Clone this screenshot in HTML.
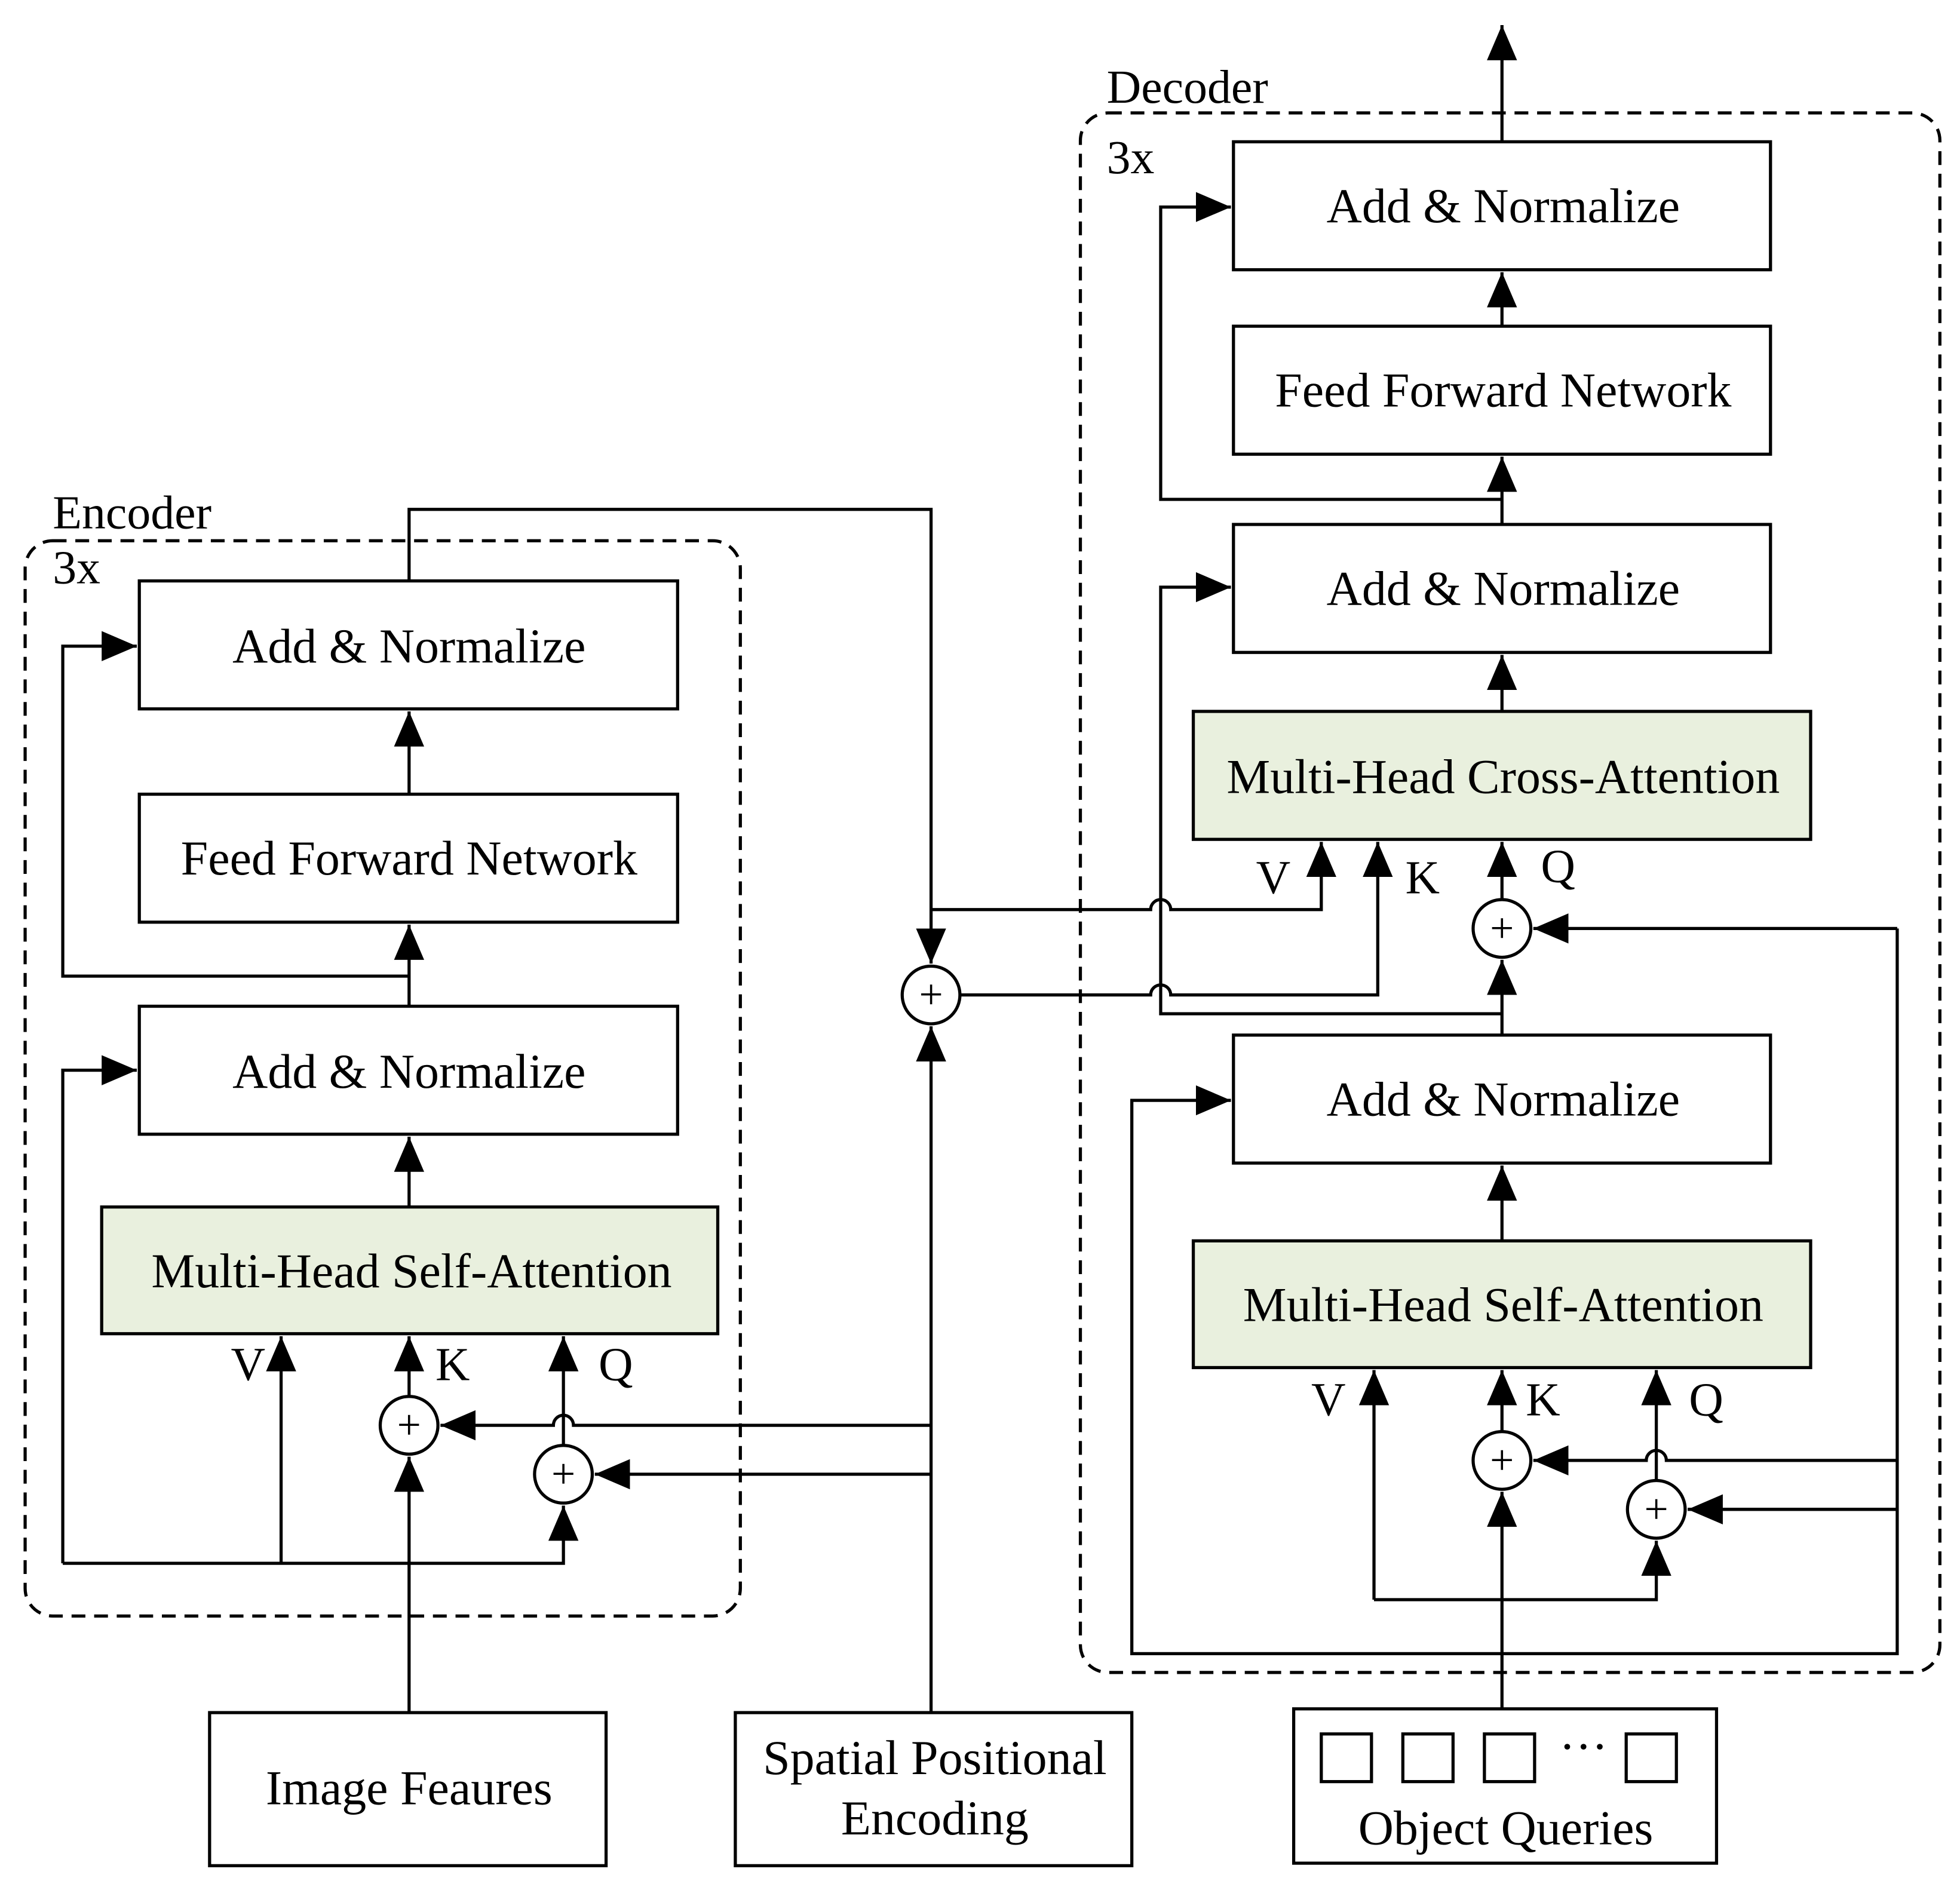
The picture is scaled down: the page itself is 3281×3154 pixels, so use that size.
<!DOCTYPE html>
<html><head><meta charset="utf-8"><style>
html,body{margin:0;padding:0;background:#fff}
svg{display:block}
text{font-family:"Liberation Serif",serif;fill:#000}
</style></head><body>
<svg width="3281" height="3154" viewBox="0 0 1562 1501.6" xmlns="http://www.w3.org/2000/svg">
<defs>
<marker id="a" markerUnits="userSpaceOnUse" markerWidth="30" markerHeight="30" viewBox="0 0 30 30" refX="28" refY="15" orient="auto">
<path d="M0,3 L28,15 L0,27 Z" fill="#000"/></marker>
</defs>
<g fill="none" stroke="#000" stroke-width="2.5">
<rect x="20" y="431" width="570" height="857" rx="22" stroke-dasharray="11,7"/>
<rect x="861" y="90" width="685" height="1243" rx="22" stroke-dasharray="11,7"/>
<rect x="111" y="463" width="429" height="102" fill="#fff"/>
<rect x="111" y="633" width="429" height="102" fill="#fff"/>
<rect x="111" y="802" width="429" height="102" fill="#fff"/>
<rect x="81" y="962" width="491" height="101" fill="#e9f0de"/>
<rect x="983" y="113" width="428" height="102"/>
<rect x="983" y="260" width="428" height="102"/>
<rect x="983" y="418" width="428" height="102"/>
<rect x="951" y="567" width="492" height="102" fill="#e9f0de"/>
<rect x="983" y="825" width="428" height="102"/>
<rect x="951" y="989" width="492" height="101" fill="#e9f0de"/>
<rect x="167" y="1365" width="316" height="122"/>
<rect x="586" y="1365" width="316" height="122"/>
<rect x="1031" y="1362" width="337" height="123"/>
<rect x="1053" y="1382" width="40" height="38"/>
<rect x="1118" y="1382" width="40" height="38"/>
<rect x="1183" y="1382" width="40" height="38"/>
<rect x="1296" y="1382" width="40" height="38"/>
<circle cx="326" cy="1136" r="23"/>
<circle cx="449" cy="1175" r="23"/>
<circle cx="742" cy="793" r="23"/>
<circle cx="1197" cy="740" r="23"/>
<circle cx="1197" cy="1164" r="23"/>
<circle cx="1320" cy="1203" r="23"/>

<path d="M326,633 V567" marker-end="url(#a)"/>
<path d="M326,802 V737" marker-end="url(#a)"/>
<path d="M326,962 V906" marker-end="url(#a)"/>
<path d="M326,778 H50 V515 H109" marker-end="url(#a)"/>
<path d="M50,1246 V853 H109" marker-end="url(#a)"/>
<path d="M50,1246 H449 V1200" marker-end="url(#a)"/>
<path d="M224,1246 V1065" marker-end="url(#a)"/>
<path d="M326,1365 V1161" marker-end="url(#a)"/>
<path d="M326,1113 V1065" marker-end="url(#a)"/>
<path d="M449,1152 V1065" marker-end="url(#a)"/>
<path d="M742,1136 H457 A8,8 0 0 0 441,1136 H351" marker-end="url(#a)"/>
<path d="M742,1175 H474" marker-end="url(#a)"/>
<path d="M742,1365 V818" marker-end="url(#a)"/>
<path d="M326,463 V406 H742 V768" marker-end="url(#a)"/>

<path d="M1197,113 V20" marker-end="url(#a)"/>
<path d="M1197,260 V217" marker-end="url(#a)"/>
<path d="M1197,418 V364" marker-end="url(#a)"/>
<path d="M1197,567 V522" marker-end="url(#a)"/>
<path d="M1197,989 V929" marker-end="url(#a)"/>
<path d="M1197,398 H925 V165 H981" marker-end="url(#a)"/>
<path d="M1197,825 V765" marker-end="url(#a)"/>
<path d="M1197,717 V671" marker-end="url(#a)"/>
<path d="M1197,808 H925 V468 H981" marker-end="url(#a)"/>
<path d="M742,725 H917 A8,8 0 0 1 933,725 H1053 V671" marker-end="url(#a)"/>
<path d="M765,793 H917 A8,8 0 0 1 933,793 H1098 V671" marker-end="url(#a)"/>
<path d="M1512,740 H1222" marker-end="url(#a)"/>
<path d="M1512,740 V1318 H902 V877 H981" marker-end="url(#a)"/>
<path d="M1512,1164 H1328 A8,8 0 0 0 1312,1164 H1222" marker-end="url(#a)"/>
<path d="M1512,1203 H1345" marker-end="url(#a)"/>
<path d="M1197,1362 V1189" marker-end="url(#a)"/>
<path d="M1197,1141 V1092" marker-end="url(#a)"/>
<path d="M1095,1275 H1320 V1228" marker-end="url(#a)"/>
<path d="M1095,1275 V1092" marker-end="url(#a)"/>
<path d="M1320,1180 V1092" marker-end="url(#a)"/>
</g>
<g font-size="34" text-anchor="middle">
<text x="326" y="1147">+</text><text x="449" y="1186">+</text><text x="742" y="804">+</text>
<text x="1197" y="751">+</text><text x="1197" y="1175">+</text><text x="1320" y="1214">+</text>
</g>
<g font-size="39" text-anchor="middle">
<text x="326" y="528">Add &amp; Normalize</text>
<text x="326" y="697">Feed Forward Network</text>
<text x="326" y="867">Add &amp; Normalize</text>
<text x="328" y="1026">Multi-Head Self-Attention</text>
<text x="1198" y="177">Add &amp; Normalize</text>
<text x="1198" y="324">Feed Forward Network</text>
<text x="1198" y="482">Add &amp; Normalize</text>
<text x="1198" y="632">Multi-Head Cross-Attention</text>
<text x="1198" y="889">Add &amp; Normalize</text>
<text x="1198" y="1053">Multi-Head Self-Attention</text>
<text x="326" y="1438">Image Feaures</text>
<text x="745" y="1414">Spatial Positional</text>
<text x="745" y="1462">Encoding</text>
<text x="1200" y="1470">Object Queries</text>
<text x="1262" y="1405">···</text>
</g>
<g font-size="38">
<text x="42" y="421">Encoder</text>
<text x="42" y="465">3x</text>
<text x="882" y="82">Decoder</text>
<text x="882" y="138">3x</text>
<text x="184" y="1100">V</text><text x="347" y="1100">K</text><text x="477" y="1100">Q</text>
<text x="1001" y="712">V</text><text x="1120" y="712">K</text><text x="1228" y="703">Q</text>
<text x="1045" y="1128">V</text><text x="1216" y="1128">K</text><text x="1346" y="1128">Q</text>
</g>
</svg>
</body></html>
